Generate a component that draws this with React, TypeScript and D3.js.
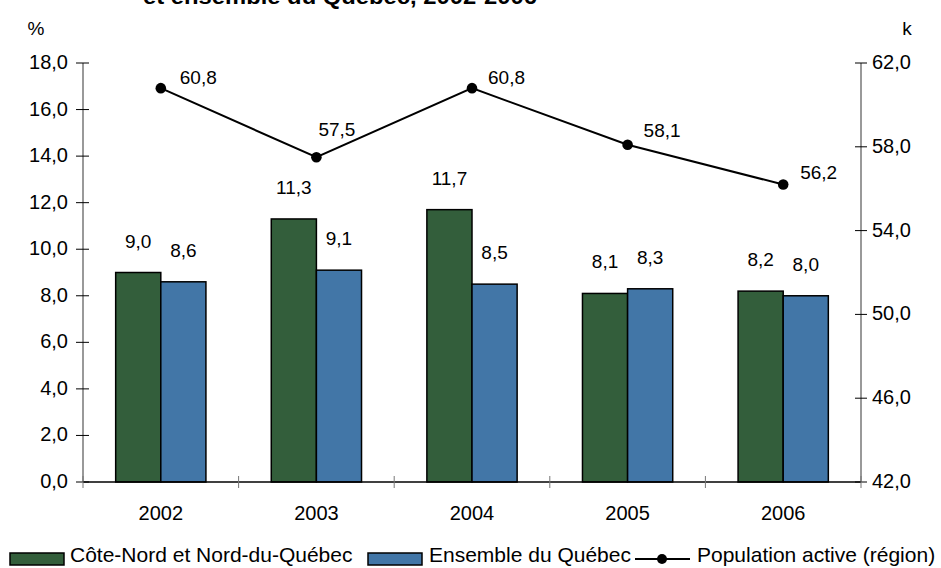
import * as d3 from "d3";

const years = ["2002", "2003", "2004", "2005", "2006"];
const coteNord = [9.0, 11.3, 11.7, 8.1, 8.2];
const quebec = [8.6, 9.1, 8.5, 8.3, 8.0];
const population = [60.8, 57.5, 60.8, 58.1, 56.2];
const leftTicks = [0, 2, 4, 6, 8, 10, 12, 14, 16, 18];
const rightTicks = [42, 46, 50, 54, 58, 62];

// label nudges for the line values (Excel placed them by hand)
const popLabelOffsets: [number, number][] = [
  [19, -4],
  [2, -21],
  [16, -4],
  [16, -8],
  [17, -6],
];

const GREEN = "#335e3b";
const BLUE = "#4276a7";
const FONT = "'Liberation Sans', Arial, sans-serif";

const fmt = (v: number) => v.toFixed(1).replace(".", ",");

export default function App() {
  const width = 941;
  const height = 568;
  const margin = { left: 83, right: 80, top: 63, bottom: 86 };
  const x0 = margin.left;
  const x1 = width - margin.right;
  const yTop = margin.top;
  const yBot = height - margin.bottom;

  const x = d3.scaleBand<string>().domain(years).range([x0, x1]).padding(0);
  const yL = d3.scaleLinear().domain([0, 18]).range([yBot, yTop]);
  const yR = d3.scaleLinear().domain([42, 62]).range([yBot, yTop]);
  const step = x.step();
  const barW = step * 0.29;
  const cx = (y: string) => (x(y) ?? 0) + step / 2;

  const line = d3
    .line<number>()
    .x((_, i) => cx(years[i]))
    .y((d) => yR(d));

  const boundaries = [...years.map((y) => x(y) ?? 0), x1];

  return (
    <svg width={width} height={height} style={{ position: "absolute", left: 0, top: 0 }} fontFamily={FONT}>
      <rect width={width} height={height} fill="#fff" />

      {/* cut-off title */}
      <text x={143} y={4} fontSize={22} fontWeight="bold" textLength={394} lengthAdjust="spacingAndGlyphs">
        et ensemble du Québec, 2002-2006
      </text>

      <text x={36} y={35} fontSize={19} textAnchor="middle">%</text>
      <text x={907} y={35} fontSize={19} textAnchor="middle">k</text>

      {/* bars */}
      {years.map((yr, i) => (
        <g key={yr}>
          <rect x={cx(yr) - barW} y={yL(coteNord[i])} width={barW} height={yBot - yL(coteNord[i])}
            fill={GREEN} stroke="#000" strokeWidth={1.5} />
          <rect x={cx(yr)} y={yL(quebec[i])} width={barW} height={yBot - yL(quebec[i])}
            fill={BLUE} stroke="#000" strokeWidth={1.5} />
          <text x={cx(yr) - barW / 2} y={yL(coteNord[i]) - 25} fontSize={19} textAnchor="middle">{fmt(coteNord[i])}</text>
          <text x={cx(yr) + barW / 2} y={yL(quebec[i]) - 25} fontSize={19} textAnchor="middle">{fmt(quebec[i])}</text>
        </g>
      ))}

      {/* axes */}
      <line x1={x0} x2={x0} y1={yTop} y2={yBot} stroke="#777" strokeWidth={1.5} />
      <line x1={x1} x2={x1} y1={yTop} y2={yBot} stroke="#777" strokeWidth={1.5} />
      <line x1={x0} x2={x1} y1={yBot} y2={yBot} stroke="#000" strokeWidth={1.5} />

      {leftTicks.map((t) => (
        <g key={"l" + t}>
          <line x1={x0 - 7} x2={x0 + 6} y1={yL(t)} y2={yL(t)} stroke="#000" strokeWidth={1} />
          <text x={68} y={yL(t) + 6} fontSize={20} textAnchor="end">{fmt(t)}</text>
        </g>
      ))}
      {rightTicks.map((t) => (
        <g key={"r" + t}>
          <line x1={x1 - 6} x2={x1 + 6} y1={yR(t)} y2={yR(t)} stroke="#000" strokeWidth={1} />
          <text x={872} y={yR(t) + 6} fontSize={20}>{fmt(t)}</text>
        </g>
      ))}
      {boundaries.map((b, i) => (
        <line key={"b" + i} x1={b} x2={b} y1={yBot - 6} y2={yBot + 6} stroke="#777" strokeWidth={1} />
      ))}
      {years.map((yr) => (
        <text key={"t" + yr} x={cx(yr)} y={520} fontSize={20} textAnchor="middle">{yr}</text>
      ))}

      {/* population line */}
      <path d={line(population) ?? ""} fill="none" stroke="#000" strokeWidth={2} />
      {population.map((p, i) => (
        <g key={"p" + i}>
          <circle cx={cx(years[i])} cy={yR(p)} r={5.3} fill="#000" />
          <text x={cx(years[i]) + popLabelOffsets[i][0]} y={yR(p) + popLabelOffsets[i][1]} fontSize={19}>{fmt(p)}</text>
        </g>
      ))}

      {/* legend */}
      <g fontSize={21}>
        <rect x={10} y={553} width={54} height={12} fill={GREEN} stroke="#000" strokeWidth={1.5} />
        <text x={70} y={562}>Côte-Nord et Nord-du-Québec</text>
        <rect x={368} y={553} width={54} height={12} fill={BLUE} stroke="#000" strokeWidth={1.5} />
        <text x={429} y={562}>Ensemble du Québec</text>
        <line x1={635} x2={690} y1={559} y2={559} stroke="#000" strokeWidth={2} />
        <circle cx={662} cy={559} r={5} fill="#000" />
        <text x={697} y={562}>Population active (région)</text>
      </g>
    </svg>
  );
}
